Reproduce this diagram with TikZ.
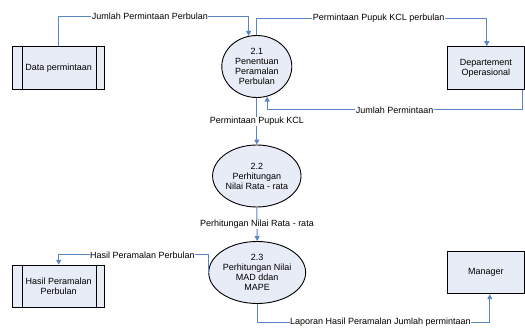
\documentclass[tikz,border=0pt]{standalone}
\usepackage{fontspec}
\setmainfont{Liberation Sans}
\usetikzlibrary{shapes.geometric,arrows.meta}
\definecolor{boxfill}{HTML}{E8ECF7}
\definecolor{flowblue}{HTML}{5A86C6}
\begin{document}
\begin{tikzpicture}[x=1pt,y=-1pt,
  every node/.style={font=\fontsize{9}{10}\selectfont},
  entity/.style={draw=black,line width=0.9pt,fill=boxfill,minimum width=77.5pt,minimum height=42.5pt,inner sep=0pt,align=center},
  store/.style={draw=black,line width=0.9pt,fill=boxfill,minimum width=92pt,minimum height=42.5pt,inner sep=0pt,align=center},
  proc/.style={ellipse,draw=black,line width=0.9pt,fill=boxfill,minimum width=70pt,minimum height=62pt,inner sep=0pt,align=center},
  flow/.style={draw=flowblue,line width=1pt,-{Triangle[length=5pt,width=5pt]}},
  lbl/.style={fill=white,inner sep=0.5pt,text=black}
]
\useasboundingbox (0,0) rectangle (525,328);
% stores
\node[store] (dp) at (58.7,67.9) {Data permintaan};
\draw[line width=0.9pt] ([xshift=10pt]dp.north west) -- ([xshift=10pt]dp.south west)
  ([xshift=-9pt]dp.north east) -- ([xshift=-9pt]dp.south east);
\node[store] (hp) at (58.7,286.5) {Hasil Peramalan\\Perbulan};
\draw[line width=0.9pt] ([xshift=10pt]hp.north west) -- ([xshift=10pt]hp.south west)
  ([xshift=-9pt]hp.north east) -- ([xshift=-9pt]hp.south east);
% entities
\node[entity] (dept) at (485.8,67.9) {Departement\\Operasional};
\node[entity] (mgr) at (485.8,272.5) {Manager};
% processes
\node[proc] (c1) at (256.8,66.5) {2.1\\Penentuan\\Peramalan\\Perbulan};
\node[proc] (c2) at (256.8,176) {2.2\\Perhitungan\\Nilai Rata - rata};
\node[proc] (c3) at (257.2,272.5) {2.3\\Perhitungan Nilai\\MAD ddan\\MAPE};
% helper coordinates
\coordinate (t1) at (0,16.7);
\coordinate (t2) at (0,18.5);
\coordinate (t3) at (0,110);
\coordinate (h1) at (208,255);
\coordinate (t4) at (0,322.5);
% flows
\draw[flow] (dp.north) |- node[lbl,pos=0.74]{Jumlah Permintaan Perbulan} (c1.105 |- t1) -- (c1.105);
\draw[flow] (c1.north) -- (c1.north |- t2) -- node[lbl,pos=0.53]{Permintaan Pupuk KCL perbulan} ([xshift=1pt]dept.north |- t2) -- ([xshift=1pt]dept.north);
\draw[flow] ([xshift=-3pt]dept.south east) -- ([xshift=-3pt]dept.south east |- t3) -- node[lbl]{Jumlah Permintaan} (c1.-71 |- t3) -- (c1.-71);
\draw[flow] (c1.south) -- node[lbl]{Permintaan Pupuk KCL} (c2.north);
\draw[flow] (c2.south) -- node[lbl]{Perhitungan Nilai Rata - rata} (c3.north);
\draw[flow] (c3.west) -| (h1) -| node[lbl,pos=0.22]{Hasil Peramalan Perbulan} (hp.north);
\draw[flow] (c3.south) -- (c3.south |- t4) -- node[lbl,pos=0.53,inner ysep=0pt]{Laporan Hasil Peramalan Jumlah permintaan} ([xshift=4pt]mgr.south |- t4) -- ([xshift=4pt]mgr.south);
\end{tikzpicture}
\end{document}
